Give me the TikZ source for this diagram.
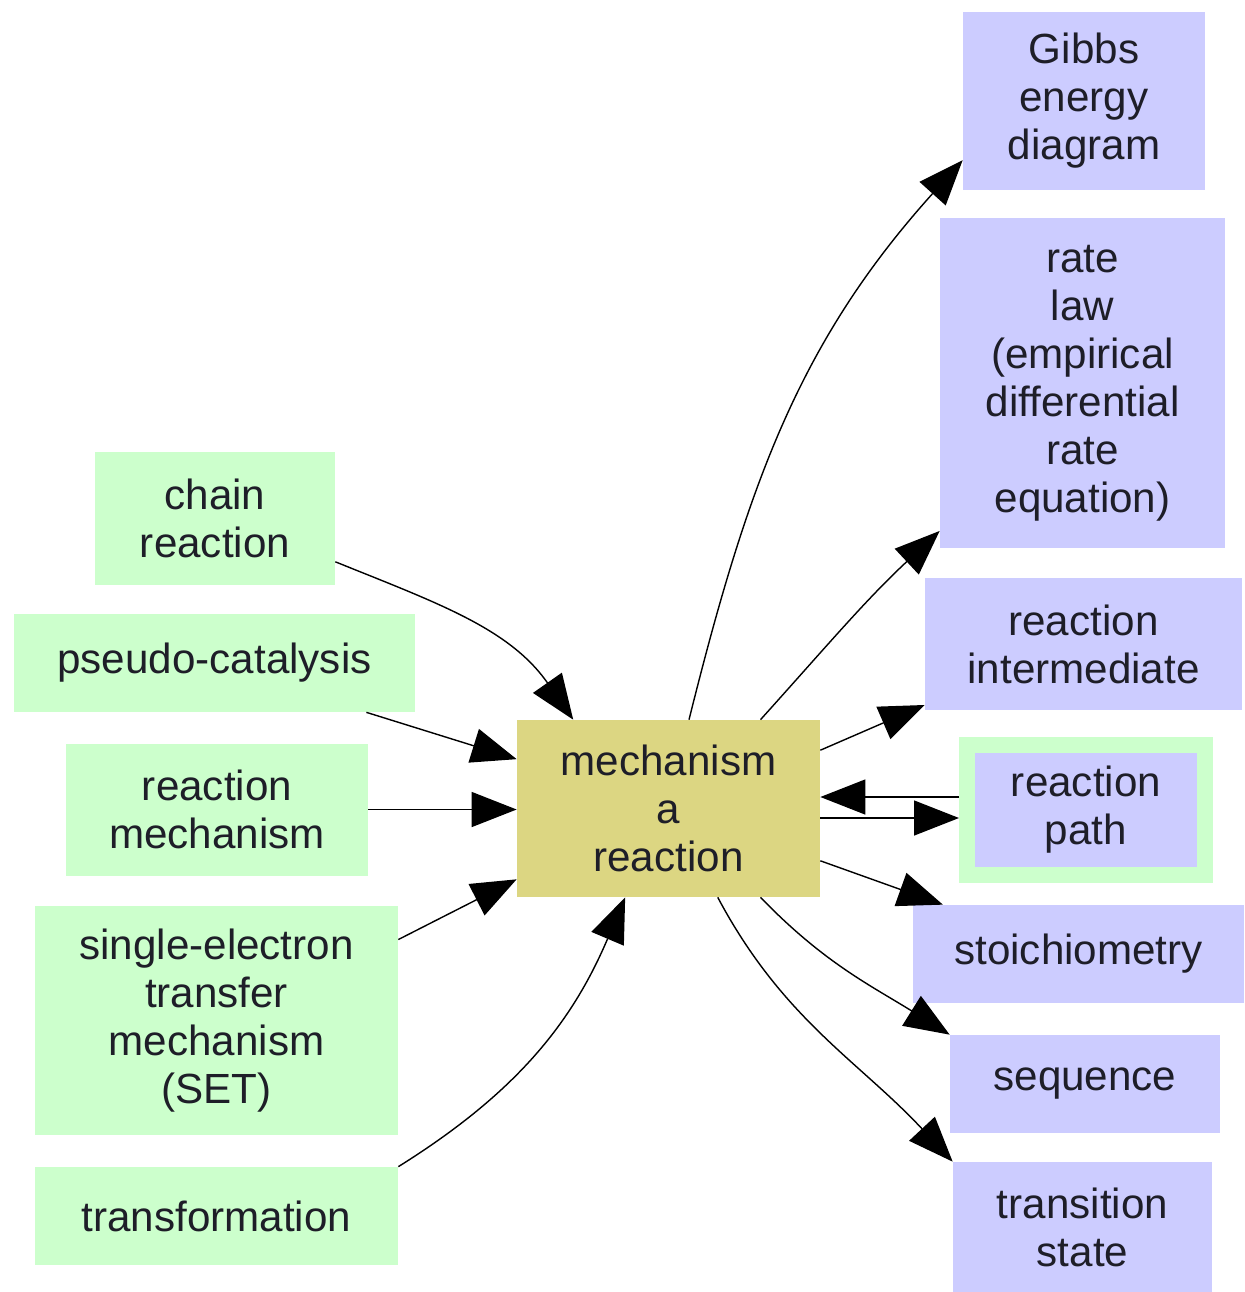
\documentclass[tikz,border=0pt]{standalone}
\usepackage{fontspec}
\setmainfont{Liberation Sans}
\usepackage{xcolor}
\usepackage{tikz}
\usetikzlibrary{arrows.meta, calc}
\definecolor{mapgreen}{HTML}{CCFFCC}
\definecolor{mapblue}{HTML}{CCCCFF}
\definecolor{mapyellow}{HTML}{DCD682}
\definecolor{maptext}{HTML}{1E1E28}

\begin{document}
\begin{tikzpicture}[
    every node/.style={inner sep=0pt, align=center, text=maptext,
                       font=\fontsize{24}{27.3}\selectfont},
    srcbox/.style={fill=mapgreen},
    dstbox/.style={fill=mapblue},
    link/.style={line width=0.8pt,
                 -{Triangle[length=0.9cm, width=0.7cm]}}
  ]
  \useasboundingbox (0,0) rectangle (24.88,-25.84);
  \fill[white] (0,0) rectangle (24.88,-25.84);

  %% --- centre concept ---
  \node[fill=mapyellow, minimum width=6.06cm, minimum height=3.54cm]
    (ctr) at (13.37,-16.17) {mechanism\\a\\reaction};

  %% --- left column: concepts pointing in ---
  \node[srcbox, minimum width=4.80cm, minimum height=2.66cm]
    (chain) at (4.30,-10.36) {chain\\reaction};
  \node[srcbox, minimum width=8.02cm, minimum height=1.96cm]
    (pseudo) at (4.29,-13.26) {pseudo-catalysis};
  \node[srcbox, minimum width=6.04cm, minimum height=2.64cm]
    (mech) at (4.34,-16.19) {reaction\\mechanism};
  \node[srcbox, minimum width=7.26cm, minimum height=4.58cm]
    (set) at (4.33,-20.41) {single-electron\\transfer\\mechanism\\(SET)};
  \node[srcbox, minimum width=7.26cm, minimum height=1.96cm]
    (transf) at (4.33,-24.32) {transformation};

  %% --- right column: concepts pointed to ---
  \node[dstbox, minimum width=4.84cm, minimum height=3.56cm]
    (gibbs) at (21.68,-2.02) {Gibbs\\energy\\diagram};
  \node[dstbox, minimum width=5.70cm, minimum height=6.60cm]
    (rate) at (21.65,-7.66)
    {rate\\law\\(empirical\\differential\\rate\\equation)};
  \node[dstbox, minimum width=6.34cm, minimum height=2.64cm]
    (inter) at (21.67,-12.88) {reaction\\intermediate};
  \node[dstbox, draw=mapgreen, line width=0.32cm,
        minimum width=4.76cm, minimum height=2.60cm]
    (path) at (21.72,-16.20) {reaction\\path};
  \node[dstbox, minimum width=6.62cm, minimum height=1.96cm]
    (stoich) at (21.57,-19.08) {stoichiometry};
  \node[dstbox, minimum width=5.40cm, minimum height=1.96cm]
    (seq) at (21.70,-21.68) {sequence};
  \node[dstbox, minimum width=5.18cm, minimum height=2.60cm]
    (trans) at (21.65,-24.54) {transition\\state};

  %% --- links in ---
  \draw[link] (chain.-20) to[out=-22, in=125] (ctr.137);
  \draw[link] (pseudo.-18) -- (ctr.162);
  \draw[link] (mech.east) -- (mech.east -| ctr.west);
  \draw[link] (set.24.5) -- (ctr.205);
  \draw[link] (transf.north east) to[out=32, in=-113] (ctr.244);

  %% --- links out ---
  \draw[link] (ctr.77) to[out=76, in=228] (gibbs.206);
  \draw[link] (ctr.44.4) to[out=48, in=223] (rate.226.6);
  \draw[link] (ctr.21) -- (inter.201.7);
  \draw[link] ([yshift=0.26cm]path.west) -- ([yshift=0.26cm]path.west -| ctr.east);
  \draw[link] ([yshift=-0.16cm]path.west -| ctr.east) -- ([yshift=-0.16cm]path.west);
  \draw[link] (ctr.-19.6) -- (stoich.160);
  \draw[link] (ctr.-44) to[out=-46, in=148] (seq.north west);
  \draw[link] (ctr.-61) to[out=-62, in=133] (trans.north west);
\end{tikzpicture}
\end{document}
